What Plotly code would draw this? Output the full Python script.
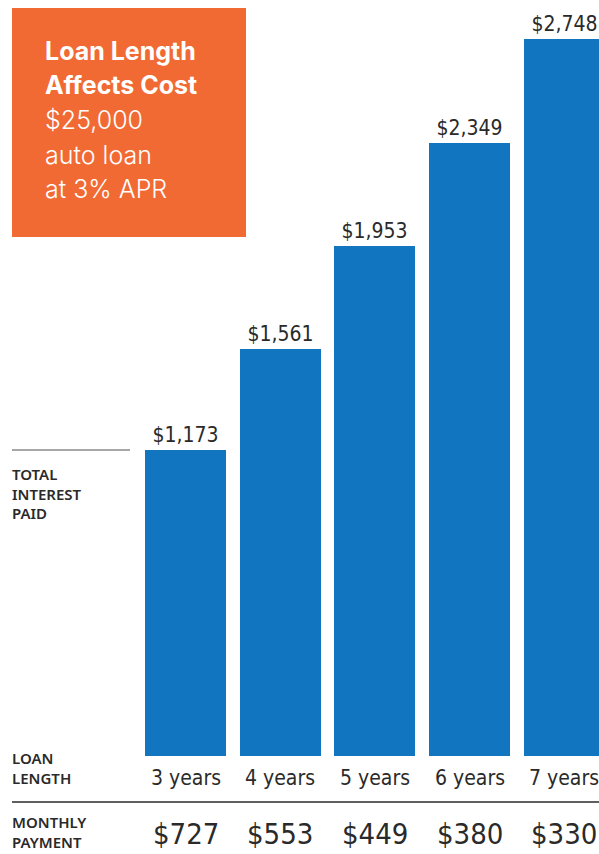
import plotly.graph_objects as go

# ---- data ----
loan_lengths = ["3 years", "4 years", "5 years", "6 years", "7 years"]
total_interest = [1173, 1561, 1953, 2349, 2748]
monthly_payment = ["$727", "$553", "$449", "$380", "$330"]
title_bold = ["Loan Length", "Affects Cost"]
title_sub = ["$25,000", "auto loan", "at 3% APR"]
row_labels = ["TOTAL<br>INTEREST<br>PAID", "LOAN<br>LENGTH", "MONTHLY<br>PAYMENT"]

W, H = 599, 854
BAR_COLOR = "#1175BF"
ORANGE = "#F26A33"
DARK = "#2a2a2a"
NUM_FONT = "DejaVu Sans Condensed, sans-serif"
LABEL_FONT = "Noto Sans, DejaVu Sans, sans-serif"
TITLE_FONT = "Inter, Noto Sans, sans-serif"

# pixel geometry of the reference
BASE_PX = 756.0           # bar baseline
SCALE = 0.2609            # px per dollar
X0_PX = 185.5             # first bar centre
PITCH = 94.7              # px between bar centres

def px_x(p):
    return p / W

def px_y(p):
    return 1 - p / H

x_idx = list(range(len(loan_lengths)))

fig = go.Figure()
fig.add_trace(go.Bar(
    x=x_idx,
    y=total_interest,
    width=81 / PITCH,
    marker=dict(color=BAR_COLOR, line=dict(width=0)),
    text=[f"${v:,}" for v in total_interest],
    textposition="outside",
    textfont=dict(family=NUM_FONT, size=21, color=DARK),
    hoverinfo="skip",
    cliponaxis=False,
))

x_lo = (0 - X0_PX) / PITCH
x_hi = (W - X0_PX) / PITCH
y_lo = (BASE_PX - H) / SCALE
y_hi = BASE_PX / SCALE

annotations = []
# year labels and monthly payments
for i, (lab, pay) in enumerate(zip(loan_lengths, monthly_payment)):
    annotations.append(dict(x=i, xref="x", y=px_y(778), yref="paper", text=lab,
                            showarrow=False, xanchor="center", yanchor="middle",
                            font=dict(family=NUM_FONT, size=21, color=DARK)))
    annotations.append(dict(x=i, xref="x", y=px_y(834), yref="paper", text=pay,
                            showarrow=False, xanchor="center", yanchor="middle",
                            borderpad=0,
                            font=dict(family=NUM_FONT, size=29, color=DARK)))

# left side row labels (multi-line)
for txt, top in zip(row_labels, [463, 747, 811]):
    annotations.append(dict(x=px_x(11), xref="paper", y=px_y(top), yref="paper", text=txt,
                            showarrow=False, xanchor="left", yanchor="top", align="left",
                            borderpad=0,
                            font=dict(family=LABEL_FONT, size=15, color=DARK, weight=600)))

# title box text
for txt, yp in zip(title_bold, [51, 85]):
    annotations.append(dict(x=px_x(43), xref="paper", y=px_y(yp), yref="paper", text=txt,
                            showarrow=False, xanchor="left", yanchor="middle",
                            font=dict(family=TITLE_FONT, size=25, color="white", weight=700)))
for txt, yp in zip(title_sub, [120, 155, 189]):
    annotations.append(dict(x=px_x(43), xref="paper", y=px_y(yp), yref="paper", text=txt,
                            showarrow=False, xanchor="left", yanchor="middle",
                            font=dict(family=TITLE_FONT, size=25, color="white", weight=300)))

shapes = [
    dict(type="rect", xref="paper", yref="paper", x0=px_x(12), x1=px_x(246),
         y0=px_y(237), y1=px_y(8), fillcolor=ORANGE, line=dict(width=0), layer="below"),
    dict(type="line", xref="paper", yref="paper", x0=px_x(12), x1=px_x(130),
         y0=px_y(450), y1=px_y(450), line=dict(color="#8a8a8a", width=1.5)),
    dict(type="line", xref="paper", yref="paper", x0=px_x(12), x1=px_x(599),
         y0=px_y(802), y1=px_y(802), line=dict(color=DARK, width=1.5)),
]

fig.update_layout(
    width=W, height=H,
    margin=dict(l=0, r=0, t=0, b=0),
    paper_bgcolor="white", plot_bgcolor="white",
    showlegend=False,
    xaxis=dict(range=[x_lo, x_hi], visible=False, fixedrange=True),
    yaxis=dict(range=[y_lo, y_hi], visible=False, fixedrange=True),
    annotations=annotations,
    shapes=shapes,
    bargap=0,
)

fig.write_html("out.html", config={"displayModeBar": False},
               post_script="document.body.style.margin='0px';document.body.style.overflow='hidden';")
